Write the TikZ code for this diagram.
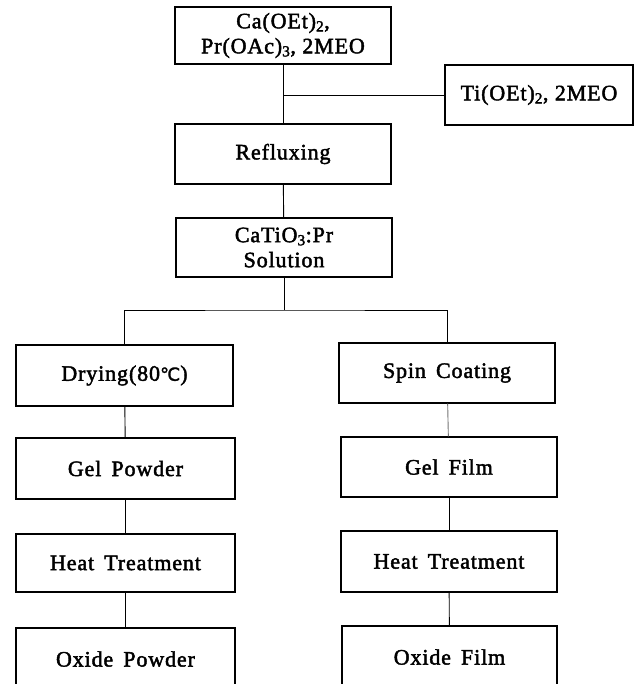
\documentclass[tikz,border=0pt]{standalone}
\usepackage{fontspec}
\setmainfont{Liberation Serif}[LetterSpace=4,FakeBold=2]
\newfontfamily\symfont{DejaVu Sans}[FakeBold=1.5]
\begin{document}
\begin{tikzpicture}[x=1pt,y=-1pt,
  box/.style={draw,line width=1.1pt,rectangle,inner sep=0pt,align=center,
    font=\fontsize{22}{25}\selectfont},
  conn/.style={line width=0.9pt}]
\useasboundingbox (0,0) rectangle (635,684);
\clip (0,0) rectangle (635,684);
\node[box,minimum width=216pt,minimum height=57pt] (top) at (283,35.5) {Ca(OEt)\textsubscript{2},\\Pr(OAc)\textsubscript{3}, 2MEO};
\node[box,minimum width=188pt,minimum height=60pt] (ti) at (539,95) {Ti(OEt)\textsubscript{2}, 2MEO};
\node[box,minimum width=216pt,minimum height=60pt] (reflux) at (283,154) {Refluxing};
\node[box,minimum width=216pt,minimum height=59pt] (cati) at (284,247.5) {CaTiO\textsubscript{3}:Pr\\Solution};
\node[box,minimum width=217pt,minimum height=61pt] (dry) at (124.5,375.5) {Drying(80{\symfont\fontsize{18}{20}\selectfont ℃})};
\node[box,minimum width=216pt,minimum height=60pt] (spin) at (447,373) {Spin\, Coating};
\node[box,minimum width=219pt,minimum height=61pt] (gelp) at (125.5,468.5) {Gel\, Powder};
\node[box,minimum width=216pt,minimum height=60pt] (gelf) at (449,467) {Gel\, Film};
\node[box,minimum width=219pt,minimum height=58pt] (heatl) at (125.5,563) {Heat\, Treatment};
\node[box,minimum width=216pt,minimum height=61pt] (heatr) at (449,561.5) {Heat\, Treatment};
\node[box,minimum width=219pt,minimum height=62pt] (oxl) at (125.5,659) {Oxide\, Powder};
\node[box,minimum width=215pt,minimum height=62pt] (oxr) at (449.5,657) {Oxide\, Film};
\coordinate (j1) at (283,95);
\coordinate (br) at (284,310);
\draw[conn] (top) -- (reflux);
\draw[conn] (j1) -- (ti.west);
\draw[conn] (reflux) -- (cati);
\draw[conn] (cati) -- (br);
\draw[conn] (dry.north) |- (br) -| (spin.north);
\draw[conn] (dry) -- (gelp);
\draw[conn] (gelp) -- (heatl);
\draw[conn] (heatl) -- (oxl);
\draw[conn,black!55] (spin) -- (gelf);
\draw[conn] (gelf) -- (heatr);
\draw[conn] (heatr) -- (oxr);
\end{tikzpicture}
\end{document}
